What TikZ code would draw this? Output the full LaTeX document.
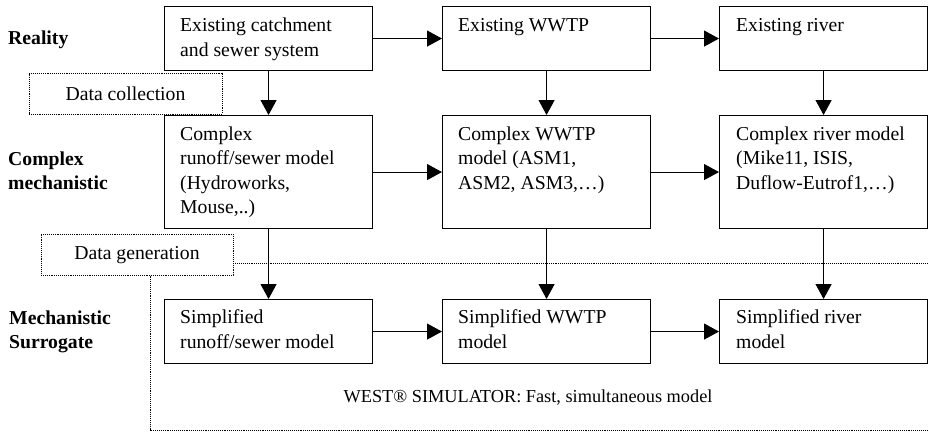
\documentclass[tikz,border=0pt]{standalone}
\usepackage{fontspec}
\setmainfont{Liberation Serif}
\usetikzlibrary{arrows.meta}
\begin{document}
\begin{tikzpicture}[x=1pt,y=1pt,
  box/.style={draw, line width=1.1pt, minimum width=208pt, inner sep=0pt, anchor=north west},
  txt/.style={anchor=north west, inner sep=0pt, align=left, font=\fontsize{19.7}{24.5}\selectfont},
  lbl/.style={anchor=north west, inner sep=0pt, align=left, font=\fontsize{19.7}{24}\selectfont\bfseries},
  arr/.style={-{Triangle[width=16pt,length=15pt]}, line width=1.1pt},
  dots/.style={line width=0.9pt, dash pattern=on 1pt off 0.9pt, black},
  dbox/.style={dots, draw, inner sep=0pt, text=black, font=\fontsize{19.7}{24}\selectfont}
]
\useasboundingbox (0,0) rectangle (928,-434);

% left labels
\node[lbl] (l1) at (8,-27.2) {\strut Reality};
\node[lbl] (l2) at (8,-148.2) {\strut Complex\\mechanistic};
\node[lbl] (l3) at (9,-307.2) {\strut Mechanistic\\Surrogate};

% boxes
\node[box, minimum height=64pt]  (A) at (164,-6) {};
\node[box, minimum height=64pt]  (B) at (442,-6) {};
\node[box, minimum height=64pt]  (C) at (719,-6) {};
\node[box, minimum height=113pt] (D) at (164,-115) {};
\node[box, minimum height=113pt] (E) at (442,-115) {};
\node[box, minimum height=113pt] (F) at (719,-115) {};
\node[box, minimum height=64pt]  (G) at (164,-299) {};
\node[box, minimum height=64pt]  (H) at (442,-299) {};
\node[box, minimum height=64pt]  (I) at (719,-299) {};

% box texts
\node[txt] (At) at ([shift={(16,-8.3)}]A.north west) {\strut Existing catchment\\and sewer system};
\node[txt] (Bt) at ([shift={(16,-8.3)}]B.north west) {\strut Existing WWTP};
\node[txt] (Ct) at ([shift={(17,-8.3)}]C.north west) {\strut Existing river};
\node[txt] (Dt) at ([shift={(16,-8.0)}]D.north west) {\strut Complex\\runoff/sewer model\\(Hydroworks,\\Mouse,..)};
\node[txt] (Et) at ([shift={(16,-8.0)}]E.north west) {\strut Complex WWTP\\model (ASM1,\\ASM2, ASM3,…)};
\node[txt] (Ft) at ([shift={(17,-8.0)}]F.north west) {\strut Complex river model\\(Mike11, ISIS,\\Duflow-Eutrof1,…)};
\node[txt] (Gt) at ([shift={(16,-7.5)}]G.north west) {\strut Simplified\\runoff/sewer model};
\node[txt] (Ht) at ([shift={(16,-7.5)}]H.north west) {\strut Simplified WWTP\\model};
\node[txt] (It) at ([shift={(17,-7.5)}]I.north west) {\strut Simplified river\\model};

% dotted boxes and region
\node[dbox, minimum width=193pt, minimum height=41pt] (dc) at (125.5,-93.5) {Data collection};
\node[dbox, minimum width=192pt, minimum height=41pt] (dg) at (137,-254.6) {Data generation};
\coordinate (tr) at (928,-263);
\coordinate (bl) at (150,-430);
\coordinate (br) at (928,-430);
\draw[dots] (dg.east |- tr) -- (tr);
\draw[dots] (dg.south -| bl) -- (bl) -- (br);

% arrows
\draw[arr] (A) -- (B);
\draw[arr] (B) -- (C);
\draw[arr] (D) -- (E);
\draw[arr] (E) -- (F);
\draw[arr] (G) -- (H);
\draw[arr] (H) -- (I);
\draw[arr] (A) -- (D);
\draw[arr] (B) -- (E);
\draw[arr] (C) -- (F);
\draw[arr] (D) -- (G);
\draw[arr] (E) -- (H);
\draw[arr] (F) -- (I);

% simulator caption
\node[anchor=base, inner sep=0pt, font=\fontsize{18.3}{22}\selectfont] (west) at (528,-402) {WEST® SIMULATOR: Fast, simultaneous model};
\end{tikzpicture}
\end{document}
